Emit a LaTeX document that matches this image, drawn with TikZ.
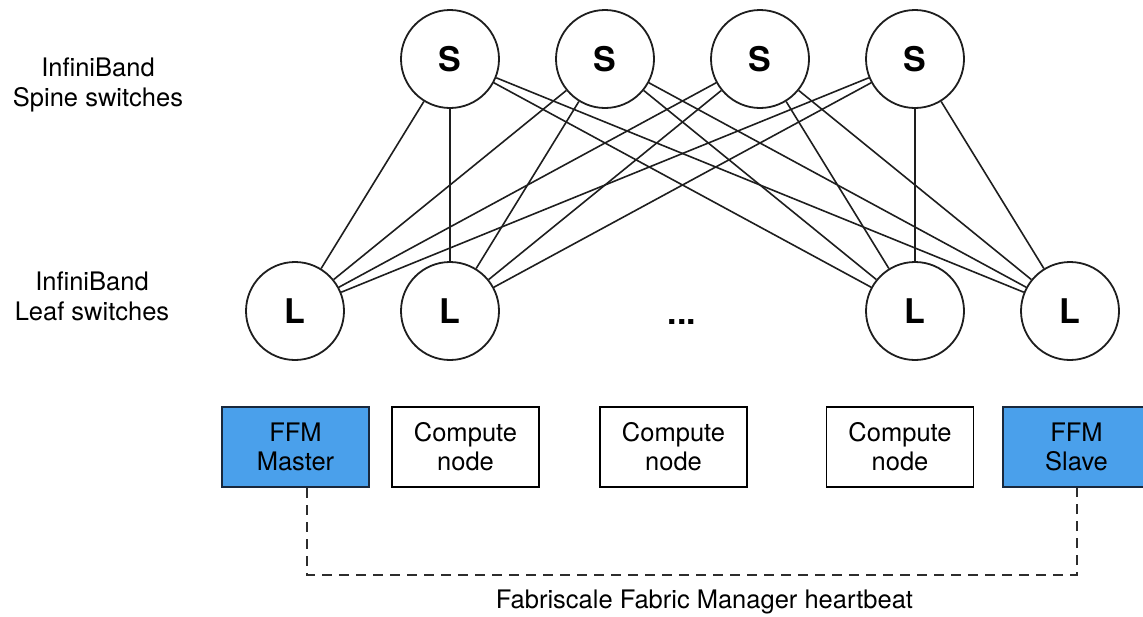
\documentclass[tikz,border=0pt]{standalone}
\usepackage{fontspec}
\setmainfont{TeX Gyre Heros}
\definecolor{linec}{RGB}{30,30,30}
\definecolor{ffmblue}{RGB}{74,160,235}
\definecolor{ffmedge}{RGB}{25,40,60}
\definecolor{hbc}{RGB}{45,45,45}
\begin{document}
\begin{tikzpicture}[x=0.5pt,y=-0.5pt,
  sw/.style={circle, draw=linec, line width=0.9pt, minimum size=49pt, inner sep=0pt,
             font=\fontsize{17pt}{19pt}\selectfont\bfseries},
  link/.style={draw=linec, line width=0.8pt},
  hostbox/.style={draw=black, line width=0.8pt, minimum width=73.5pt, minimum height=40pt,
                  inner sep=0pt, align=center, font=\fontsize{12.75pt}{14.5pt}\selectfont},
  ffmbox/.style={hostbox, fill=ffmblue, draw=ffmedge, line width=1pt},
  lbl/.style={align=center, font=\fontsize{12.75pt}{15pt}\selectfont, inner sep=0pt},
  heartbeat/.style={draw=hbc, line width=1.1pt, dash pattern=on 5pt off 3.5pt}
]
\useasboundingbox (0,0) rectangle (1143,616);
\clip (0,0) rectangle (1143,616);

% side labels
\node[lbl] (spinelbl) at (98,84.5) {InfiniBand\\Spine switches};
\node[lbl] (leaflbl) at (92,296) {InfiniBand\\Leaf switches};

% spine switches
\node[sw] (s1) at (450,59) {S};
\node[sw] (s2) at (605,59) {S};
\node[sw] (s3) at (760,59) {S};
\node[sw] (s4) at (915,59) {S};

% leaf switches
\node[sw] (l1) at (295,311) {L};
\node[sw] (l2) at (450,311) {L};
\node[sw] (l3) at (915,311) {L};
\node[sw] (l4) at (1070,311) {L};
\node[anchor=base, inner sep=0pt, font=\fontsize{17pt}{19pt}\selectfont\bfseries] (dots) at (682,324) {...};

% links
\foreach \s in {s1,s2,s3,s4}{
  \foreach \l in {l1,l2,l3,l4}{
    \draw[link] (\s) -- (\l);
  }
}

% hosts
\node[ffmbox] (master) at (295.5,447) {FFM\\Master};
\node[hostbox] (c1) at (465.5,447) {Compute\\node};
\node[hostbox] (c2) at (673.5,447) {Compute\\node};
\node[hostbox] (c3) at (900,447) {Compute\\node};
\node[ffmbox] (slave) at (1076.5,447) {FFM\\Slave};

% heartbeat
\coordinate (hbL) at (307,575);
\coordinate (hbR) at (1077,575);
\draw[heartbeat] (master.south -| hbL) -- (hbL) -- (hbR) -- (slave.south -| hbR);
\node[anchor=base, inner sep=0pt, font=\fontsize{12.75pt}{15pt}\selectfont] (hblbl) at (704.5,608) {Fabriscale Fabric Manager heartbeat};
\end{tikzpicture}
\end{document}
